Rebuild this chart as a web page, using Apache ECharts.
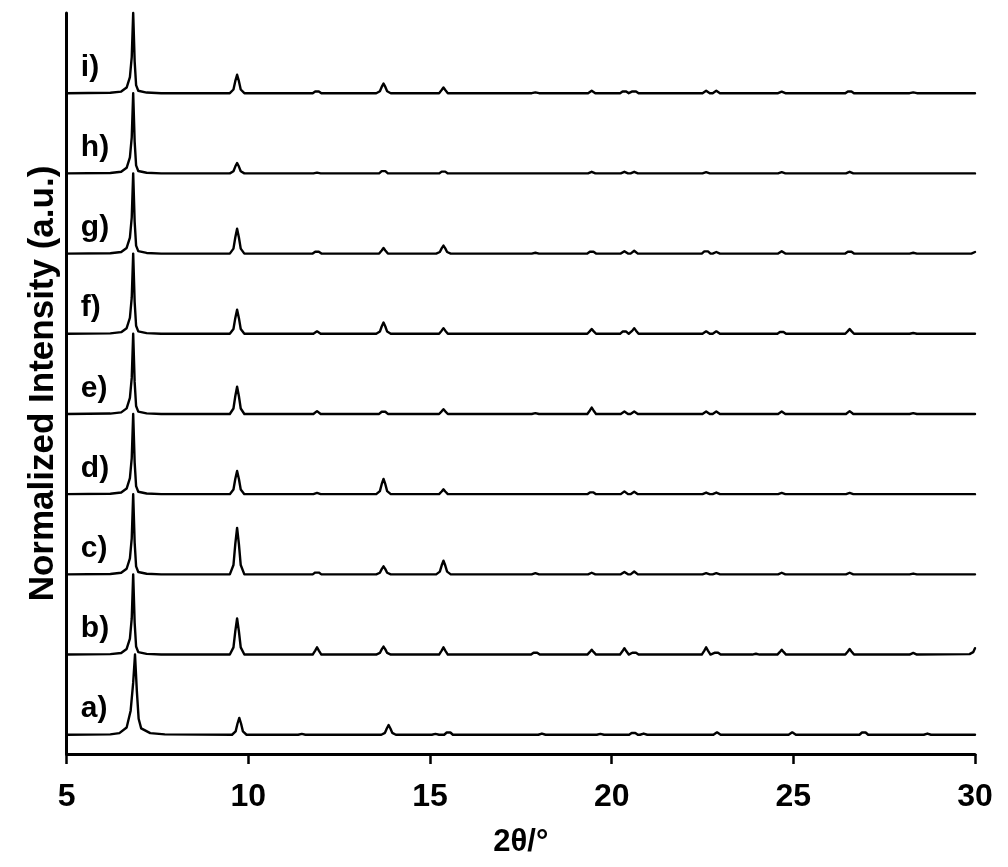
<!DOCTYPE html>
<html>
<head>
<meta charset="utf-8">
<script src="https://cdn.jsdelivr.net/npm/echarts@6/dist/echarts.min.js"></script>
<style>
html,body{margin:0;padding:0;background:#fff;}
#chart{width:1008px;height:867px;}
</style>
</head>
<body>
<div id="chart"></div>
<script>
// ---- Data ----
const sampleLabels = ['a)', 'b)', 'c)', 'd)', 'e)', 'f)', 'g)', 'h)', 'i)'];
const xTicks = [5, 10, 15, 20, 25, 30];

// Each pattern: [2θ, normalized intensity] points (stack offset is added later)
const patternA = [[5,0],[6.2,0.005],[6.45,0.02],[6.65,0.09],[6.76,0.3],[6.83,0.65],[6.88,1],[6.93,0.55],[6.98,0.2],[7.05,0.08],[7.3,0.02],[7.7,0.005],
  [9.55,0],[9.65,0.042],[9.7,0.137],[9.75,0.21],[9.8,0.137],[9.85,0.042],[9.95,0],
  [11.37,0],[11.47,0.01],[11.57,0],
  [13.66,0],[13.76,0.024],[13.81,0.078],[13.86,0.12],[13.91,0.078],[13.96,0.024],[14.06,0],
  [15.05,0],[15.15,0.01],[15.25,0],
  [15.39,0],[15.46,0.028],[15.51,0.05],[15.56,0.028],[15.63,0],
  [17.98,0],[18.08,0.015],[18.18,0],
  [19.59,0],[19.69,0.01],[19.79,0],
  [20.48,0],[20.55,0.022],[20.6,0.04],[20.65,0.022],[20.72,0],
  [20.78,0],[20.88,0.015],[20.98,0],
  [22.8,0],[22.9,0.03],[23.0,0],
  [24.87,0],[24.97,0.03],[25.07,0],
  [26.82,0],[26.89,0.028],[26.94,0.05],[26.99,0.028],[27.06,0],
  [28.59,0],[28.69,0.015],[28.79,0],
  [30,0]];

const patternB = [[5,0],[6.2,0.005],[6.5,0.02],[6.65,0.07],[6.74,0.2],[6.79,0.45],[6.83,1],[6.87,0.4],[6.91,0.1],[6.97,0.03],[7.2,0.008],[7.6,0],
  [9.49,0],[9.59,0.09],[9.64,0.29],[9.69,0.45],[9.74,0.29],[9.79,0.09],[9.89,0],
  [11.77,0],[11.84,0.05],[11.89,0.09],[11.94,0.05],[12.01,0],
  [13.52,0],[13.62,0.02],[13.67,0.065],[13.72,0.1],[13.77,0.065],[13.82,0.02],[13.92,0],
  [15.25,0],[15.32,0.05],[15.37,0.09],[15.42,0.05],[15.49,0],
  [17.78,0],[17.85,0.022],[17.9,0.04],[17.95,0.022],[18.02,0],
  [19.33,0],[19.4,0.033],[19.45,0.06],[19.5,0.033],[19.57,0],
  [20.23,0],[20.3,0.044],[20.35,0.08],[20.4,0.044],[20.47,0],
  [20.5,0],[20.57,0.022],[20.62,0.04],[20.67,0.022],[20.74,0],
  [22.48,0],[22.55,0.05],[22.6,0.09],[22.65,0.05],[22.72,0],
  [22.76,0],[22.83,0.022],[22.88,0.04],[22.93,0.022],[23.0,0],
  [23.87,0],[23.97,0.01],[24.07,0],
  [24.56,0],[24.63,0.033],[24.68,0.06],[24.73,0.033],[24.8,0],
  [26.43,0],[26.5,0.039],[26.55,0.07],[26.6,0.039],[26.67,0],
  [28.2,0],[28.3,0.02],[28.4,0],
  [29.85,0.005],[29.95,0.03],[30,0.08]];

const patternC = [[5,0],[6.2,0.005],[6.5,0.02],[6.65,0.07],[6.74,0.2],[6.79,0.45],[6.83,1],[6.87,0.4],[6.91,0.1],[6.97,0.03],[7.2,0.008],[7.6,0],
  [9.49,0],[9.59,0.116],[9.64,0.377],[9.69,0.58],[9.74,0.377],[9.79,0.116],[9.89,0],
  [11.77,0],[11.84,0.022],[11.89,0.04],[11.94,0.022],[12.01,0],
  [13.52,0],[13.62,0.02],[13.67,0.065],[13.72,0.1],[13.77,0.065],[13.82,0.02],[13.92,0],
  [15.17,0],[15.27,0.034],[15.32,0.11],[15.37,0.17],[15.42,0.11],[15.47,0.034],[15.57,0],
  [17.8,0],[17.9,0.015],[18.0,0],
  [19.35,0],[19.45,0.02],[19.55,0],
  [20.25,0],[20.35,0.03],[20.45,0],
  [20.52,0],[20.62,0.035],[20.72,0],
  [22.5,0],[22.6,0.015],[22.7,0],
  [22.78,0],[22.88,0.015],[22.98,0],
  [24.58,0],[24.68,0.02],[24.78,0],
  [26.45,0],[26.55,0.02],[26.65,0],
  [28.2,0],[28.3,0.01],[28.4,0],
  [30,0]];

const patternD = [[5,0],[6.2,0.005],[6.5,0.02],[6.65,0.07],[6.74,0.2],[6.79,0.45],[6.83,1],[6.87,0.4],[6.91,0.1],[6.97,0.03],[7.2,0.008],[7.6,0],
  [9.49,0],[9.59,0.058],[9.64,0.19],[9.69,0.29],[9.74,0.19],[9.79,0.058],[9.89,0],
  [11.79,0],[11.89,0.015],[11.99,0],
  [13.52,0],[13.62,0.038],[13.67,0.124],[13.72,0.19],[13.77,0.124],[13.82,0.038],[13.92,0],
  [15.25,0],[15.32,0.033],[15.37,0.06],[15.42,0.033],[15.49,0],
  [19.33,0],[19.4,0.022],[19.45,0.04],[19.5,0.022],[19.57,0],
  [20.25,0],[20.35,0.035],[20.45,0],
  [20.52,0],[20.62,0.03],[20.72,0],
  [22.5,0],[22.6,0.02],[22.7,0],
  [22.78,0],[22.88,0.02],[22.98,0],
  [24.58,0],[24.68,0.015],[24.78,0],
  [26.45,0],[26.55,0.015],[26.65,0],
  [30,0]];

const patternE = [[5,0],[6.2,0.005],[6.5,0.02],[6.65,0.07],[6.74,0.2],[6.79,0.45],[6.83,1],[6.87,0.4],[6.91,0.1],[6.97,0.03],[7.2,0.008],[7.6,0],
  [9.49,0],[9.59,0.068],[9.64,0.221],[9.69,0.34],[9.74,0.221],[9.79,0.068],[9.89,0],
  [11.79,0],[11.89,0.035],[11.99,0],
  [13.6,0],[13.67,0.028],[13.72,0.05],[13.77,0.028],[13.84,0],
  [15.25,0],[15.32,0.033],[15.37,0.06],[15.42,0.033],[15.49,0],
  [17.8,0],[17.9,0.01],[18.0,0],
  [19.33,0],[19.4,0.044],[19.45,0.08],[19.5,0.044],[19.57,0],
  [20.25,0],[20.35,0.03],[20.45,0],
  [20.52,0],[20.62,0.03],[20.72,0],
  [22.5,0],[22.6,0.03],[22.7,0],
  [22.78,0],[22.88,0.03],[22.98,0],
  [24.58,0],[24.68,0.03],[24.78,0],
  [26.45,0],[26.55,0.035],[26.65,0],
  [28.2,0],[28.3,0.01],[28.4,0],
  [30,0]];

const patternF = [[5,0],[6.2,0.005],[6.5,0.02],[6.65,0.07],[6.74,0.2],[6.79,0.45],[6.83,1],[6.87,0.4],[6.91,0.1],[6.97,0.03],[7.2,0.008],[7.6,0],
  [9.49,0],[9.59,0.06],[9.64,0.195],[9.69,0.3],[9.74,0.195],[9.79,0.06],[9.89,0],
  [11.79,0],[11.89,0.03],[11.99,0],
  [13.52,0],[13.62,0.028],[13.67,0.091],[13.72,0.14],[13.77,0.091],[13.82,0.028],[13.92,0],
  [15.25,0],[15.32,0.039],[15.37,0.07],[15.42,0.039],[15.49,0],
  [19.33,0],[19.4,0.033],[19.45,0.06],[19.5,0.033],[19.57,0],
  [20.23,0],[20.3,0.028],[20.35,0.05],[20.4,0.028],[20.47,0],
  [20.5,0],[20.57,0.039],[20.62,0.07],[20.67,0.039],[20.74,0],
  [22.5,0],[22.6,0.03],[22.7,0],
  [22.78,0],[22.88,0.03],[22.98,0],
  [24.56,0],[24.63,0.022],[24.68,0.04],[24.73,0.022],[24.8,0],
  [26.43,0],[26.5,0.033],[26.55,0.06],[26.6,0.033],[26.67,0],
  [28.2,0],[28.3,0.01],[28.4,0],
  [30,0]];

const patternG = [[5,0],[6.2,0.005],[6.5,0.02],[6.65,0.07],[6.74,0.2],[6.79,0.45],[6.83,1],[6.87,0.4],[6.91,0.1],[6.97,0.03],[7.2,0.008],[7.6,0],
  [9.49,0],[9.59,0.062],[9.64,0.2],[9.69,0.31],[9.74,0.2],[9.79,0.062],[9.89,0],
  [11.77,0],[11.84,0.022],[11.89,0.04],[11.94,0.022],[12.01,0],
  [13.6,0],[13.67,0.039],[13.72,0.07],[13.77,0.039],[13.84,0],
  [15.17,0],[15.27,0.02],[15.32,0.065],[15.37,0.1],[15.42,0.065],[15.47,0.02],[15.57,0],
  [17.8,0],[17.9,0.01],[18.0,0],
  [19.33,0],[19.4,0.022],[19.45,0.04],[19.5,0.022],[19.57,0],
  [20.25,0],[20.35,0.03],[20.45,0],
  [20.52,0],[20.62,0.035],[20.72,0],
  [22.48,0],[22.55,0.028],[22.6,0.05],[22.65,0.028],[22.72,0],
  [22.78,0],[22.88,0.02],[22.98,0],
  [24.58,0],[24.68,0.03],[24.78,0],
  [26.43,0],[26.5,0.022],[26.55,0.04],[26.6,0.022],[26.67,0],
  [28.2,0],[28.3,0.01],[28.4,0],
  [29.9,0],[30,0.02]];

const patternH = [[5,0],[6.2,0.005],[6.5,0.02],[6.65,0.07],[6.74,0.2],[6.79,0.45],[6.83,1],[6.87,0.4],[6.91,0.1],[6.97,0.03],[7.2,0.008],[7.6,0],
  [9.49,0],[9.59,0.026],[9.64,0.085],[9.69,0.13],[9.74,0.085],[9.79,0.026],[9.89,0],
  [11.79,0],[11.89,0.01],[11.99,0],
  [13.6,0],[13.67,0.028],[13.72,0.05],[13.77,0.028],[13.84,0],
  [15.25,0],[15.32,0.022],[15.37,0.04],[15.42,0.022],[15.49,0],
  [19.35,0],[19.45,0.02],[19.55,0],
  [20.25,0],[20.35,0.02],[20.45,0],
  [20.52,0],[20.62,0.02],[20.72,0],
  [22.5,0],[22.6,0.015],[22.7,0],
  [24.58,0],[24.68,0.015],[24.78,0],
  [26.45,0],[26.55,0.02],[26.65,0],
  [30,0]];

const patternI = [[5,0],[6.2,0.005],[6.5,0.02],[6.65,0.07],[6.74,0.2],[6.79,0.45],[6.83,1],[6.87,0.4],[6.91,0.1],[6.97,0.03],[7.2,0.008],[7.6,0],
  [9.49,0],[9.59,0.046],[9.64,0.15],[9.69,0.23],[9.74,0.15],[9.79,0.046],[9.89,0],
  [11.77,0],[11.84,0.022],[11.89,0.04],[11.94,0.022],[12.01,0],
  [13.52,0],[13.62,0.024],[13.67,0.078],[13.72,0.12],[13.77,0.078],[13.82,0.024],[13.92,0],
  [15.25,0],[15.32,0.039],[15.37,0.07],[15.42,0.039],[15.49,0],
  [17.8,0],[17.9,0.01],[18.0,0],
  [19.35,0],[19.45,0.03],[19.55,0],
  [20.23,0],[20.3,0.022],[20.35,0.04],[20.4,0.022],[20.47,0],
  [20.5,0],[20.57,0.022],[20.62,0.04],[20.67,0.022],[20.74,0],
  [22.5,0],[22.6,0.03],[22.7,0],
  [22.78,0],[22.88,0.03],[22.98,0],
  [24.58,0],[24.68,0.02],[24.78,0],
  [26.43,0],[26.5,0.022],[26.55,0.04],[26.6,0.022],[26.67,0],
  [28.2,0],[28.3,0.01],[28.4,0],
  [30,0]];

const patterns = [patternA, patternB, patternC, patternD, patternE, patternF, patternG, patternH, patternI];

// ---- Styling / layout ----
const FONT = '"Liberation Sans", Arial, Helvetica, sans-serif';
const stackStep = 1;       // vertical offset between patterns
const labelX = 5.39;       // where the a)…i) labels start
const labelDy = 0.32;      // label height above its baseline

const series = patterns.map((pts, k) => ({
  type: 'line',
  name: sampleLabels[k],
  data: pts.map(p => [p[0], p[1] + k * stackStep]),
  showSymbol: false,
  symbol: 'none',
  smooth: false,
  clip: false,
  lineStyle: { color: '#000', width: 2.4, join: 'round', cap: 'round' },
  z: 3
}));

series.push({
  type: 'scatter',
  name: 'labels',
  symbolSize: 0,
  itemStyle: { opacity: 1, color: '#000' },
  data: sampleLabels.map((t, k) => ({ value: [labelX, k * stackStep + labelDy], name: t })),
  label: {
    show: true,
    position: 'right',
    distance: 0,
    opacity: 1,
    formatter: p => p.name,
    color: '#000',
    fontFamily: FONT,
    fontWeight: 'bold',
    fontSize: 30
  },
  silent: true,
  z: 4
});

const chart = echarts.init(document.getElementById('chart'), null, { renderer: 'canvas' });
chart.setOption({
  animation: false,
  backgroundColor: '#fff',
  grid: { left: 66.7, right: 33, top: 13, bottom: 113, containLabel: false, outerBoundsMode: 'none' },
  xAxis: {
    type: 'value',
    min: 5, max: 30, interval: 5,
    name: '2θ/°',
    nameLocation: 'middle',
    nameGap: 73,
    nameTextStyle: { color: '#000', fontFamily: FONT, fontWeight: 'bold', fontSize: 31 },
    axisLine: { show: true, onZero: false, lineStyle: { color: '#000', width: 3 } },
    axisTick: { show: true, inside: false, length: 10, lineStyle: { color: '#000', width: 2.5 } },
    axisLabel: {
      color: '#000', fontFamily: FONT, fontWeight: 'bold', fontSize: 32, margin: 27,
      formatter: v => (xTicks.indexOf(v) >= 0 ? String(v) : '')
    },
    splitLine: { show: false }
  },
  yAxis: {
    type: 'value',
    min: -0.24, max: 9.0,
    name: 'Normalized Intensity (a.u.)',
    nameLocation: 'middle',
    nameGap: 6,
    nameTextStyle: { color: '#000', fontFamily: FONT, fontWeight: 'bold', fontSize: 35 },
    axisLine: { show: true, onZero: false, lineStyle: { color: '#000', width: 3 } },
    axisTick: { show: false },
    axisLabel: { show: false },
    splitLine: { show: false }
  },
  series: series
});
</script>
</body>
</html>
